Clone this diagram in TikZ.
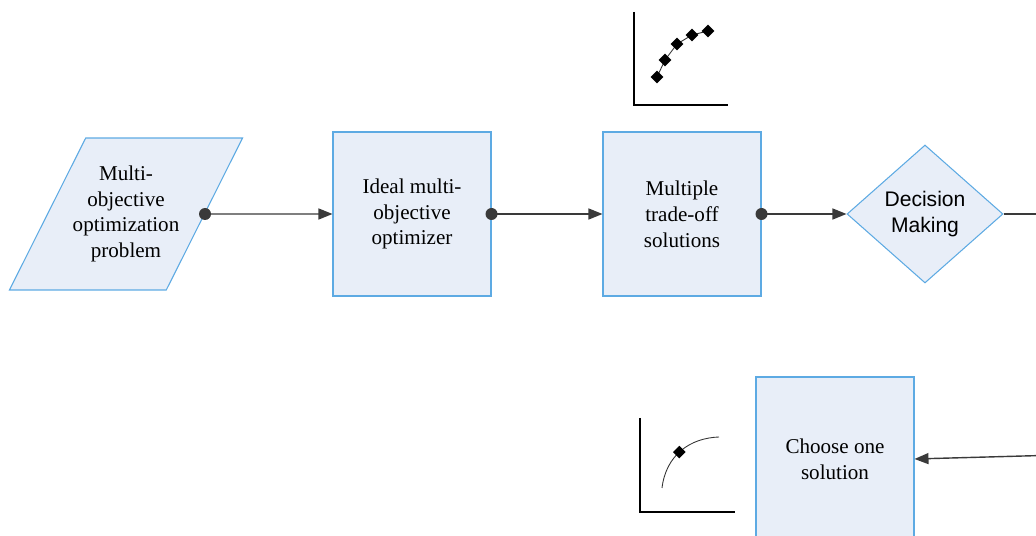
\documentclass[tikz,border=0pt]{standalone}
\usepackage{fontspec}
\setmainfont{Liberation Serif}
\newfontfamily\flowsans{Liberation Sans}
\usetikzlibrary{arrows.meta,shapes.geometric}
\definecolor{BoxFill}{HTML}{E8EEF8}
\definecolor{BoxLine}{HTML}{5DAAE3}
\definecolor{FlowDark}{HTML}{3A3A3A}

\begin{document}
\begin{tikzpicture}[
  x=0.02cm,y=-0.02cm,
  shape base/.style={draw=BoxLine,fill=BoxFill,line width=0.6pt,align=center,
    inner sep=0pt,font=\fontsize{12}{14.7}\selectfont},
  block/.style={shape base,minimum width=3.16cm,minimum height=3.28cm},
  inputbox/.style={shape base,trapezium,trapezium left angle=51.7,trapezium right angle=128.3,
    trapezium stretches=true,inner xsep=-0.26cm,minimum width=4.66cm,minimum height=3.04cm},
  choice/.style={shape base,diamond,minimum width=3.12cm,minimum height=2.76cm,
    font=\flowsans\fontsize{12}{14.7}\selectfont},
  flow/.style={FlowDark,line width=0.8pt,-{Triangle[length=2.8mm,width=2.2mm]}},
  joint/.style={fill=FlowDark},
  axisline/.style={black,line width=0.8pt},
  front/.style={black!80,line width=0.5pt},
  paretomark/.style={diamond,fill=black,inner sep=0pt,minimum size=2.6mm}
]
  \clip (0,0) rectangle (1036,536);
  % main row
  \node[inputbox] (problem) at (126,214) {Multi-\\objective\\optimization\\problem};
  \node[block] (optimizer) at (412,214) {Ideal multi-\\objective\\optimizer};
  \node[block] (tradeoff) at (682,214) {Multiple\\trade-off\\solutions};
  \node[choice] (decision) at (925,214) {Decision\\Making};
  \node[block] (choose) at (835,459) {Choose one\\solution};
  \coordinate (exitR) at (1060,214);
  \coordinate (entryR) at (1060,455);
  % connectors
  \draw[flow] (problem.east) -- (optimizer.west);
  \draw[flow] (optimizer.east) -- (tradeoff.west);
  \draw[flow] (tradeoff.east) -- (decision.west);
  \draw[FlowDark,line width=0.8pt] (decision.east) -- (exitR);
  \draw[flow] (entryR) -- (choose.east);
  \foreach \n in {problem,optimizer,tradeoff}
    \fill[joint] (\n.east) circle (0.12cm);
  % trade-off front
  \coordinate (topO) at (634,105);
  \draw[axisline] (634,12) -- (topO) -- (728,105);
  \draw[front] (657,77) -- (665,60) -- (677,44) -- (692,35) -- (708,31);
  \foreach \px/\py [count=\i] in {657/77,665/60,677/44,692/35,708/31}
    \node[paretomark] (p\i) at (\px,\py) {};
  % single pick
  \coordinate (lowO) at (640,512);
  \draw[axisline] (640,418) -- (lowO) -- (735,512);
  \draw[front] (662,488) .. controls (666,455) and (690,438) .. (719,437)
    node[paretomark,pos=0.47] (pick) {};
\end{tikzpicture}
\end{document}
